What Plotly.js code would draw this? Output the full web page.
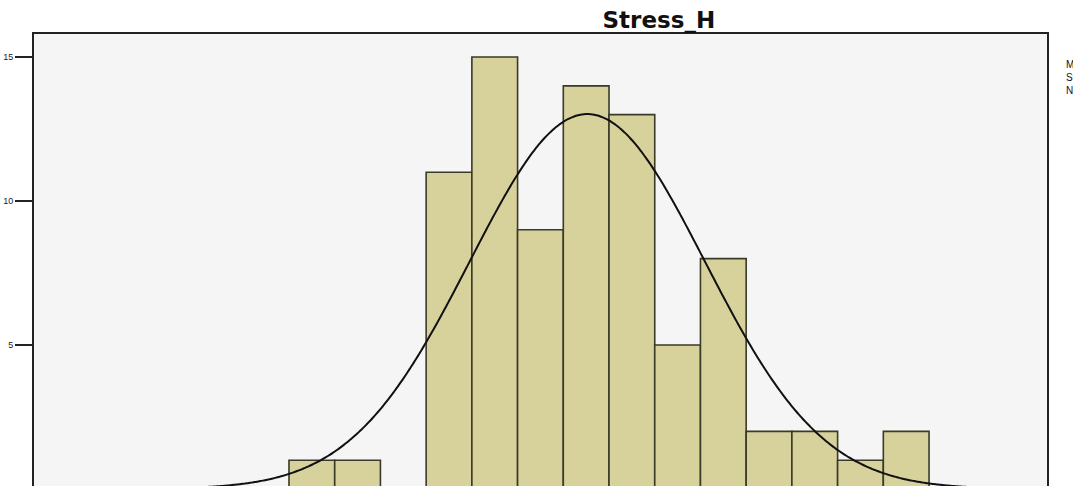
<!DOCTYPE html>
<html>
<head>
<meta charset="utf-8">
<script src="https://cdn.plot.ly/plotly-3.0.1.min.js"></script>
<style>html,body{margin:0;padding:0;background:#fff;}#chart{width:1073px;height:486px;}</style>
</head>
<body>
<div id="chart"></div>
<script>
// Histogram bins (left edges) and frequencies
const binLefts = [10, 12, 14, 16, 18, 20, 22, 24, 26, 28, 30, 32, 34, 36];
const counts   = [1, 1, 0, 11, 15, 9, 14, 13, 5, 8, 2, 2, 1, 2];
const binWidth = 2;
// Summary statistics (SPSS legend)
const meanVal = 23.05;
const sdVal = 5.148;
const nVal = 84;
const yTicks = [5, 10, 15];
const titleText = 'Stress_H';

// Normal curve scaled to the histogram
const curveX = [];
const curveY = [];
for (let x = -2; x <= 44; x += 0.1) {
  curveX.push(x);
  const z = (x - meanVal) / sdVal;
  curveY.push(nVal * binWidth * Math.exp(-0.5 * z * z) / (sdVal * Math.sqrt(2 * Math.PI)));
}

const traces = [
  {
    type: 'bar',
    x: binLefts,
    y: counts,
    width: binWidth,
    offset: 0,
    marker: {color: '#d7d29c', line: {color: '#3a3a28', width: 1.6}},
    hoverinfo: 'x+y',
    showlegend: false
  },
  {
    type: 'scatter',
    mode: 'lines',
    x: curveX,
    y: curveY,
    line: {color: '#111111', width: 2, shape: 'spline'},
    hoverinfo: 'skip',
    showlegend: false
  }
];

const layout = {
  width: 1073,
  height: 486,
  margin: {l: 34, r: 26, t: 34, b: 0, pad: 0},
  paper_bgcolor: '#ffffff',
  plot_bgcolor: '#f5f5f5',
  bargap: 0,
  title: {
    text: '<b>' + titleText + '</b>',
    font: {family: 'DejaVu Sans, Arial, sans-serif', size: 23, color: '#111'},
    xref: 'container', x: 0.614, xanchor: 'center',
    yref: 'container', y: 0.958, yanchor: 'middle'
  },
  xaxis: {
    range: [-1.155, 43.16],
    side: 'top',
    showline: true, linecolor: '#222', linewidth: 2,
    showgrid: false, zeroline: false,
    showticklabels: false, ticks: ''
  },
  yaxis: {
    range: [0.104, 15.8],
    tickvals: yTicks,
    ticktext: yTicks.map(String),
    ticks: 'outside', ticklen: 17, tickwidth: 1.2, tickcolor: '#222',
    showline: true, mirror: true, linecolor: '#222', linewidth: 2,
    showgrid: false, zeroline: false,
    tickfont: {family: 'Arial, Liberation Sans, sans-serif', size: 9, color: '#222'}
  },
  annotations: [
    {
      xref: 'paper', yref: 'paper',
      x: (1064 - 34) / 1013, y: 1 - (57 - 34) / 452,
      xanchor: 'left', yanchor: 'top', align: 'left',
      showarrow: false,
      text: 'Mean = ' + meanVal + '<br>Std. Dev. = ' + sdVal + '<br>N = ' + nVal,
      font: {family: 'Arial, Liberation Sans, sans-serif', size: 10, color: '#111'}
    }
  ]
};

Plotly.newPlot('chart', traces, layout, {displayModeBar: false, staticPlot: true});
</script>
</body>
</html>
